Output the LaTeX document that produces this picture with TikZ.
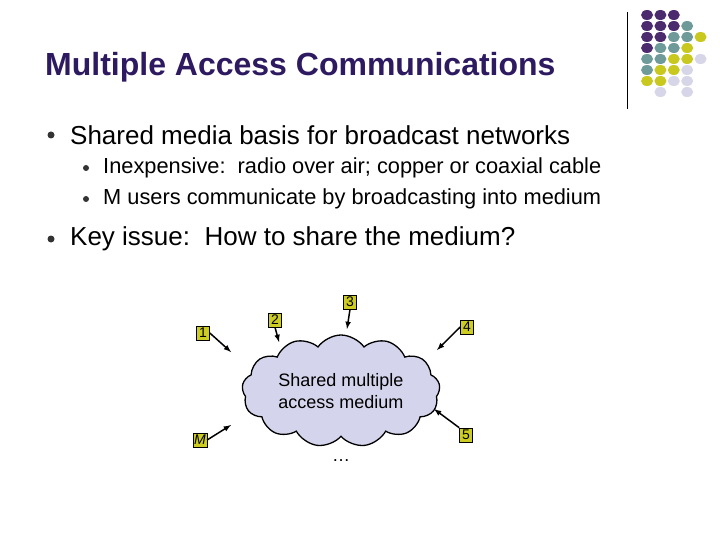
\documentclass[tikz,border=0pt]{standalone}
\usepackage{fontspec}
\setmainfont{Liberation Sans}
\usetikzlibrary{shapes.symbols,shapes.geometric}
\definecolor{pu}{HTML}{4B2A6E}
\definecolor{te}{HTML}{6E9A9A}
\definecolor{ye}{HTML}{C8C81E}
\definecolor{la}{HTML}{D6D6E8}
\definecolor{cl}{HTML}{D4D4EC}
\definecolor{tt}{HTML}{2E1A60}
\definecolor{lb}{HTML}{CCCC22}
\begin{document}
\begin{tikzpicture}[x=1pt,y=-1pt,
  lab/.style={fill=lb,draw=black,line width=0.6pt,inner sep=1pt,minimum width=13pt,minimum height=14pt,font=\fontsize{14}{14}\selectfont},
  arr/.style={-latex,line width=1.5pt},
  bul/.style={circle,fill=black!80,inner sep=0pt,minimum size=#1},
  dot/.style={ellipse,inner sep=0pt,minimum width=12pt,minimum height=10pt,fill=#1}]
\useasboundingbox (0,0) rectangle (720,540);
\fill[white] (0,0) rectangle (720,540);
\node[anchor=west,text=tt,font=\bfseries\fontsize{32}{32}\selectfont,inner sep=0pt] (title) at (45,67) {Multiple Access Communications};
\draw[line width=0.8pt] (627,12) -- (627,109);
% dots
\foreach \r/\row in {0/{pu,pu,pu,,},1/{pu,pu,pu,te,},2/{pu,pu,te,te,ye},3/{pu,te,te,ye,},4/{te,te,ye,ye,la},5/{te,ye,ye,la,},6/{ye,ye,la,la,},7/{,la,,la,}}{
  \foreach \c [count=\i from 0] in \row {
    \ifx\c\empty\else \node[dot=\c] (d\r\i) at (647+13.4*\i,15+11*\r) {};\fi
  }}
\node[bul=7pt] (b1) at (51,135) {};
\node[anchor=west,inner sep=0pt,font=\fontsize{26}{26}\selectfont] (t1) at (70,135) {Shared media basis for broadcast networks};
\node[bul=6pt] (b2) at (86,168) {};
\node[anchor=west,inner sep=0pt,font=\fontsize{21.8}{22}\selectfont] (t2) at (103,168) {Inexpensive:\ \ radio over air; copper or coaxial cable};
\node[bul=6pt] (b3) at (86,199) {};
\node[anchor=west,inner sep=0pt,font=\fontsize{21.8}{22}\selectfont] (t3) at (103,199) {M users communicate by broadcasting into medium};
\node[bul=7pt] (b4) at (51,239) {};
\node[anchor=west,inner sep=0pt,font=\fontsize{26}{26}\selectfont] (t4) at (70,239) {Key issue:\ \ How to share the medium?};
% cloud
\node[cloud,cloud puffs=13,cloud puff arc=110,aspect=1.9,draw=black,line width=1.3pt,fill=cl,minimum width=198pt,minimum height=112pt,inner sep=0pt] (cloud) at (341,391) {};
\node[align=center,font=\fontsize{18}{22}\selectfont] (ct) at (341,391) {Shared multiple\\access medium};
\node[lab] (n1) at (203,333) {1};
\node[lab] (n2) at (275,320) {2};
\node[lab] (n3) at (350,302) {3};
\node[lab] (n4) at (467,327) {4};
\node[lab] (nM) at (200,440) {\itshape M};
\node[lab] (n5) at (466,435) {5};
\coordinate (e1) at (231,352);
\coordinate (e2) at (279,342);
\coordinate (e3) at (347,329);
\coordinate (e4) at (437,350);
\coordinate (eM) at (231,425);
\coordinate (e5) at (434,409);
\draw[arr] (n1.east) -- (e1);
\draw[arr] (n2.south) -- (e2);
\draw[arr] (n3.south) -- (e3);
\draw[arr] (n4.west) -- (e4);
\draw[arr] (nM.east) -- (eM);
\draw[arr] (n5.north west) -- (e5);
\node[font=\fontsize{18}{18}\selectfont] (dots) at (341,461) {\dots};
\end{tikzpicture}
\end{document}
